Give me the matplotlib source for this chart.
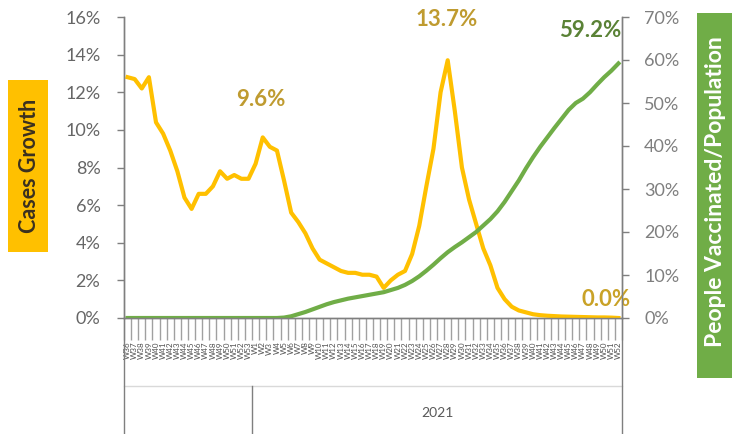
import matplotlib
matplotlib.use("Agg")
import matplotlib.pyplot as plt
from matplotlib.patches import Rectangle
from matplotlib.ticker import PercentFormatter, FixedLocator
import matplotlib.transforms as mtransforms

plt.rcParams["font.family"] = ["Lato", "DejaVu Sans"]

GOLD = "#FFC000"
GREEN = "#70AD47"
GRAY = "#7F7F7F"

weeks_2020 = ["W%d" % w for w in range(36, 54)]
weeks_2021 = ["W%d" % w for w in range(1, 53)]
labels = weeks_2020 + weeks_2021

cases_growth = [12.8, 12.7, 12.2, 12.8, 10.4, 9.8, 8.9, 7.8, 6.4, 5.8,
                6.6, 6.6, 7.0, 7.8, 7.4, 7.6, 7.4, 7.4, 8.2, 9.6,
                9.1, 8.9, 7.3, 5.6, 5.1, 4.5, 3.7, 3.1, 2.9, 2.7,
                2.5, 2.4, 2.4, 2.3, 2.3, 2.2, 1.6, 2.0, 2.3, 2.5,
                3.4, 4.9, 7.0, 9.0, 12.0, 13.7, 11.0, 8.0, 6.3, 5.0,
                3.7, 2.8, 1.6, 1.0, 0.6, 0.4, 0.3, 0.2, 0.15, 0.12,
                0.1, 0.08, 0.07, 0.06, 0.05, 0.04, 0.03, 0.03, 0.02, 0.0]

vaccinated = [0.0, 0.0, 0.0, 0.0, 0.0, 0.0, 0.0, 0.0, 0.0, 0.0,
              0.0, 0.0, 0.0, 0.0, 0.0, 0.0, 0.0, 0.0, 0.0, 0.0,
              0.0, 0.0, 0.1, 0.4, 0.9, 1.4, 2.0, 2.6, 3.2, 3.7,
              4.1, 4.5, 4.8, 5.1, 5.4, 5.7, 6.0, 6.5, 7.0, 7.7,
              8.6, 9.7, 11.0, 12.4, 13.9, 15.3, 16.5, 17.6, 18.8, 20.0,
              21.5, 23.0, 24.8, 27.0, 29.5, 32.0, 34.8, 37.4, 39.8, 42.0,
              44.2, 46.3, 48.4, 50.0, 51.0, 52.5, 54.3, 56.0, 57.5, 59.2]

n = len(labels)
x = list(range(n))

W, H = 733, 434
fig = plt.figure(figsize=(W / 100, H / 100), dpi=100)
ax = fig.add_axes([124 / W, 1 - 318 / H, (622 - 124) / W, (318 - 17) / H])
ax2 = ax.twinx()

ax.plot(x, cases_growth, color=GOLD, lw=3, solid_joinstyle="round", zorder=3)
ax2.plot(x, vaccinated, color=GREEN, lw=3, solid_joinstyle="round", zorder=2)

ax.set_xlim(-0.5, n - 0.5)
ax.set_ylim(0, 16)
ax2.set_ylim(0, 70)
ax.set_yticks(range(0, 17, 2))
ax2.set_yticks(range(0, 71, 10))
ax.yaxis.set_major_formatter(PercentFormatter(decimals=0))
ax2.yaxis.set_major_formatter(PercentFormatter(decimals=0))

for a in (ax, ax2):
    a.spines["top"].set_visible(False)
    for s in ("left", "right", "bottom"):
        a.spines[s].set_color(GRAY)
        a.spines[s].set_linewidth(1.0)
ax.tick_params(axis="y", length=5, width=1, color=GRAY, colors="#666666",
               labelsize=13, pad=12)
ax2.tick_params(axis="y", length=5, width=1, color=GRAY, colors="#7F7F7F",
                labelsize=13, pad=11)

# category axis: labels at centres, tick marks at boundaries
ax.set_xticks(x)
ax.set_xticklabels(labels, rotation=90, fontsize=5.8, color="#505050")
ax.xaxis.set_minor_locator(FixedLocator([i - 0.5 for i in range(n + 1)]))
ax.tick_params(axis="x", which="major", length=0, pad=17)
ax.tick_params(axis="x", which="minor", length=16, width=1, color="#A0A0A0")

# group level of the axis
trans = mtransforms.blended_transform_factory(ax.transData, ax.transAxes)
bottom = -(434 - 318) / 301
level = -(386 - 318) / 301
ax.plot([-0.5, n - 0.5], [level, level], color="#D9D9D9", lw=1,
        transform=trans, clip_on=False)
for b, top in ((-0.5, 0), (len(weeks_2020) - 0.5, level), (n - 0.5, 0)):
    ax.plot([b, b], [top, bottom], color=GRAY, lw=1, transform=trans,
            clip_on=False)
ax.text((len(weeks_2020) - 0.5 + n - 0.5) / 2, -(413 - 318) / 301, "2021",
        transform=trans, ha="center", va="center", fontsize=10,
        color="#595959")

# data labels
i_first = cases_growth.index(max(cases_growth[10:30]))
i_peak = cases_growth.index(max(cases_growth))
lbl = dict(textcoords="offset points", ha="center", va="center",
           fontsize=16, fontweight="bold")
ax.annotate("%.1f%%" % cases_growth[i_first], xy=(i_first, cases_growth[i_first]),
            xytext=(-1.5, 27), color="#BF9B30", **lbl)
ax.annotate("%.1f%%" % cases_growth[i_peak], xy=(i_peak, cases_growth[i_peak]),
            xytext=(-1, 29), color="#BF9B30", **lbl)
ax.annotate("%.1f%%" % cases_growth[-1], xy=(n - 1, cases_growth[-1]),
            xytext=(-9, 13), color="#C9A227", **lbl)
ax2.annotate("%.1f%%" % vaccinated[-1], xy=(n - 1, vaccinated[-1]),
             xytext=(-20, 24), color="#5A8236", **lbl)

# axis titles in coloured boxes (pixel rectangles)
def px_rect(x0, y0, x1, y1, color):
    fig.patches.append(Rectangle((x0 / W, 1 - y1 / H), (x1 - x0) / W,
                                 (y1 - y0) / H, transform=fig.transFigure,
                                 facecolor=color, edgecolor="none"))

px_rect(8, 80, 48, 252, GOLD)
fig.text(29 / W, 1 - 166 / H, "Cases Growth", rotation=90, ha="center",
         va="center", fontsize=15.5, fontweight="bold", color="#3A3020")
px_rect(697, 13, 732, 378, GREEN)
fig.text(715 / W, 1 - 192 / H, "People Vaccinated/Population", rotation=90,
         ha="center", va="center", fontsize=16.5, fontweight="bold",
         color="white")

fig.savefig("out.png", dpi=100)
